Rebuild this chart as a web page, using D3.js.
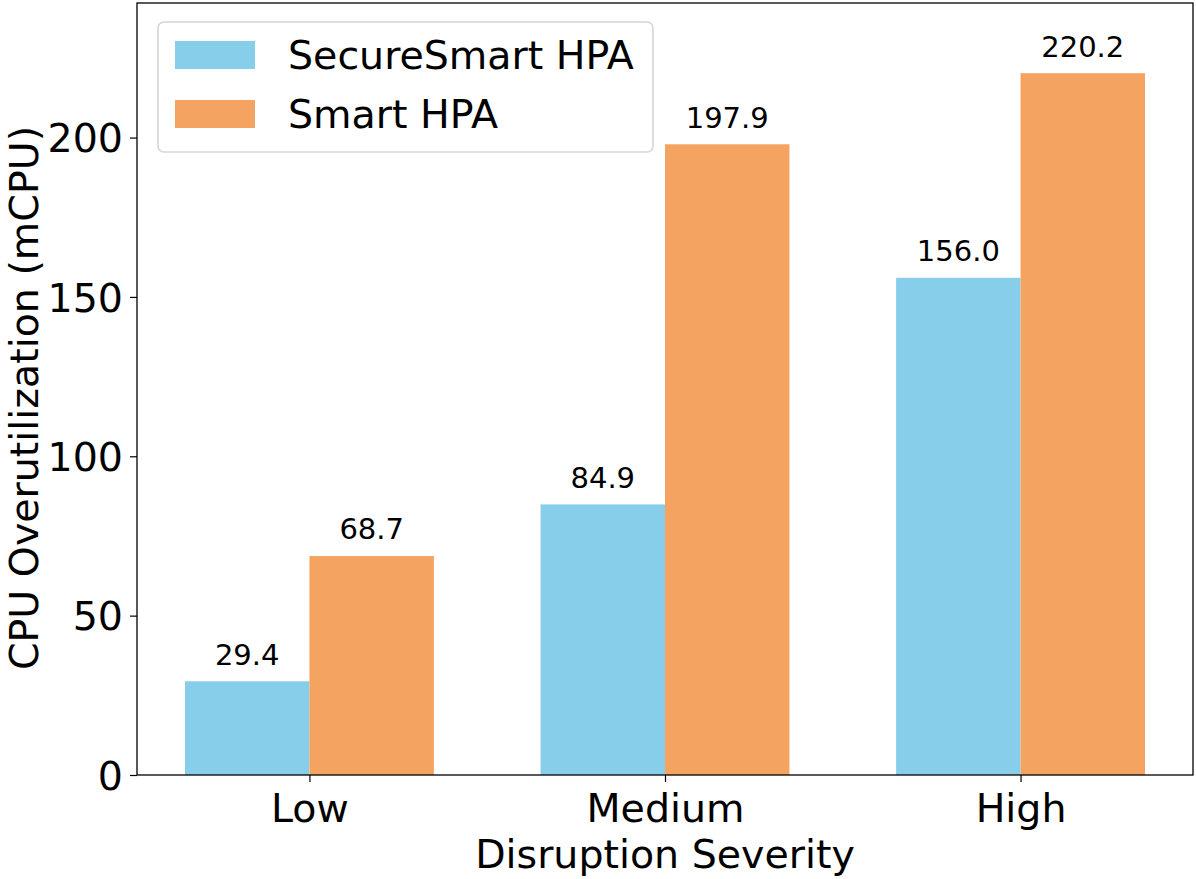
<!DOCTYPE html>
<html>
<head>
<meta charset="utf-8">
<script src="https://cdn.jsdelivr.net/npm/d3@7"></script>
<style>
  body { margin: 0; background: #fff; }
  text { font-family: "DejaVu Sans", sans-serif; fill: #000; }
</style>
</head>
<body>
<svg id="chart"></svg>
<script>
const categories = ["Low", "Medium", "High"];
const seriesNames = ["SecureSmart HPA", "Smart HPA"];
const secureSmart = [29.4, 84.9, 156.0];
const smart = [68.7, 197.9, 220.2];
const yTicks = [0, 50, 100, 150, 200];
const colors = ["#87CEEB", "#F4A460"];

const width = 1196, height = 879;
const margin = { top: 3, right: 3, bottom: 104, left: 137 };
const barW = 0.35;
const fontBig = "39.5px";

const svg = d3.select("#chart").attr("width", width).attr("height", height);

// numeric x like matplotlib: categories at 0,1,2
const x = d3.scaleLinear()
    .domain([-0.485, 2.485])
    .range([margin.left, width - margin.right]);

const yMax = d3.max([...secureSmart, ...smart]) * 1.1;
const y = d3.scaleLinear()
    .domain([0, yMax])
    .range([height - margin.bottom, margin.top]);

const series = [secureSmart, smart];

series.forEach((vals, s) => {
    const off = s === 0 ? -barW : 0;
    svg.selectAll(".bar" + s)
        .data(vals)
        .enter()
        .append("rect")
        .attr("x", (d, i) => x(i + off))
        .attr("y", d => y(d))
        .attr("width", x(barW) - x(0))
        .attr("height", d => y(0) - y(d))
        .attr("fill", colors[s]);

    svg.selectAll(".lab" + s)
        .data(vals)
        .enter()
        .append("text")
        .attr("x", (d, i) => x(i + off + barW / 2))
        .attr("y", d => y(d + 3) - 7)
        .attr("text-anchor", "middle")
        .style("font-size", "29px")
        .text(d => d.toFixed(1));
});

// axes
const xAxis = svg.append("g")
    .attr("transform", `translate(0, ${height - margin.bottom})`)
    .call(d3.axisBottom(x).tickValues([0, 1, 2]).tickFormat(i => categories[i])
        .tickSize(7).tickSizeOuter(0));
xAxis.selectAll("text").style("font-size", fontBig).attr("y", 47).attr("dy", 0);

const yAxis = svg.append("g")
    .attr("transform", `translate(${margin.left}, 0)`)
    .call(d3.axisLeft(y).tickValues(yTicks).tickSize(7).tickPadding(7).tickSizeOuter(0));
yAxis.selectAll("text").style("font-size", fontBig).attr("dy", "0.36em");

svg.selectAll(".domain").remove();
svg.selectAll(".tick line").attr("stroke", "#000").attr("stroke-width", 1.2);

// frame
svg.append("rect")
    .attr("x", margin.left)
    .attr("y", margin.top)
    .attr("width", width - margin.right - margin.left)
    .attr("height", height - margin.bottom - margin.top)
    .attr("fill", "none")
    .attr("stroke", "#000")
    .attr("stroke-width", 1.3);

// axis labels
svg.append("text")
    .attr("x", (margin.left + width - margin.right) / 2)
    .attr("y", 868)
    .attr("text-anchor", "middle")
    .style("font-size", fontBig)
    .text("Disruption Severity");

svg.append("text")
    .attr("transform", `translate(38, 398) rotate(-90)`)
    .attr("text-anchor", "middle")
    .style("font-size", fontBig)
    .text("CPU Overutilization (mCPU)");

// legend
const legend = svg.append("g");
legend.append("rect")
    .attr("x", 158).attr("y", 22)
    .attr("width", 495).attr("height", 130)
    .attr("rx", 6)
    .attr("fill", "#fff").attr("fill-opacity", 0.8)
    .attr("stroke", "#d5d5d5").attr("stroke-width", 1.6);

seriesNames.forEach((name, i) => {
    legend.append("rect")
        .attr("x", 175).attr("y", 41 + i * 59)
        .attr("width", 80).attr("height", 28)
        .attr("fill", colors[i]);
    legend.append("text")
        .attr("x", 288).attr("y", 69 + i * 59)
        .style("font-size", fontBig)
        .text(name);
});
</script>
</body>
</html>
